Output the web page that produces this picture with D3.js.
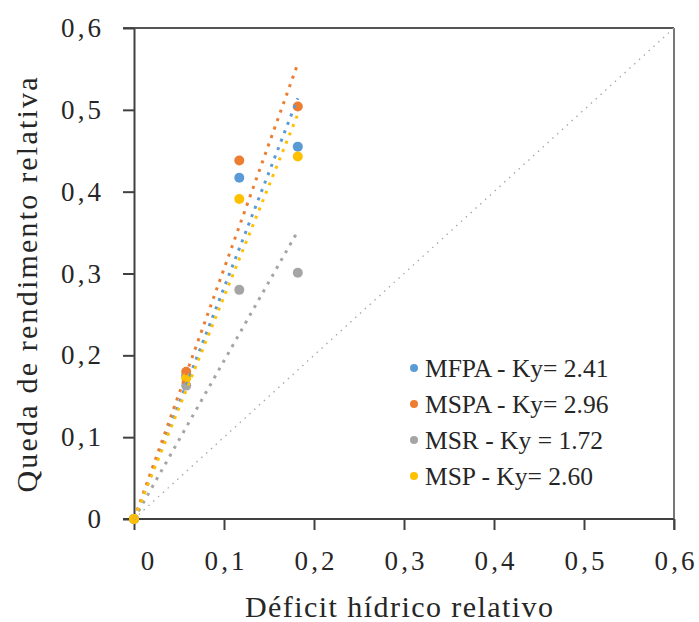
<!DOCTYPE html>
<html>
<head>
<meta charset="utf-8">
<script src="https://d3js.org/d3.v7.min.js"></script>
<style>
  body { margin: 0; background: #fff; }
  svg { display: block; font-family: "Liberation Serif", "Times New Roman", serif; }
</style>
</head>
<body>
<script>
// relative water deficit (x) for the four treatments
var deficit = [0, 0.058, 0.117, 0.182];

// relative yield drop for each series
var seriesNames = ["MFPA - Ky= 2.41", "MSPA - Ky= 2.96", "MSR - Ky = 1.72", "MSP - Ky= 2.60"];
var mfpa = [0, 0.175, 0.417, 0.455];
var mspa = [0, 0.180, 0.438, 0.504];
var msr  = [0, 0.163, 0.280, 0.301];
var msp  = [0, 0.172, 0.391, 0.443];
var colors = ["#5B9BD5", "#ED7D31", "#A5A5A5", "#FFC000"];

// tick values and labels (comma decimal)
var xTicks = [0, 0.1, 0.2, 0.3, 0.4, 0.5, 0.6];
var yTicks = [0, 0.1, 0.2, 0.3, 0.4, 0.5, 0.6];
var tickLabels = ["0", "0,1", "0,2", "0,3", "0,4", "0,5", "0,6"];

var width = 699, height = 622;
var plotL = 134, plotR = 674, plotT = 28, plotB = 519;

var svg = d3.select("body").append("svg")
  .attr("width", width)
  .attr("height", height);

svg.append("rect").attr("width", width).attr("height", height).attr("fill", "#fff");

var x = d3.scaleLinear().domain([0, 0.6]).range([plotL, plotR]);
var y = d3.scaleLinear().domain([0, 0.6]).range([plotB, plotT]);

// frame top & right
svg.append("line").attr("x1", plotL - 11).attr("x2", plotR).attr("y1", plotT).attr("y2", plotT)
  .attr("stroke", "#555").attr("stroke-width", 2);
svg.append("line").attr("x1", plotR).attr("x2", plotR).attr("y1", plotT).attr("y2", plotB + 11)
  .attr("stroke", "#777").attr("stroke-width", 2);

// axes
var xAxis = svg.append("g")
  .attr("transform", "translate(0," + plotB + ")")
  .call(d3.axisBottom(x).tickValues(xTicks)
    .tickFormat(function(d, i) { return tickLabels[i]; })
    .tickSize(11).tickSizeOuter(0).tickPadding(21));

var yAxis = svg.append("g")
  .attr("transform", "translate(" + plotL + ",0)")
  .call(d3.axisLeft(y).tickValues(yTicks)
    .tickFormat(function(d, i) { return tickLabels[i]; })
    .tickSize(11).tickSizeOuter(0).tickPadding(22));

[xAxis, yAxis].forEach(function(ax) {
  ax.select(".domain").attr("stroke", "#404040").attr("stroke-width", 2);
  ax.selectAll(".tick line").attr("stroke", "#404040").attr("stroke-width", 2);
  ax.selectAll(".tick text")
    .attr("font-size", 27)
    .attr("font-family", "Liberation Serif, serif")
    .attr("fill", "#262626")
    .each(function(d, i) {
      if (tickLabels[i].length > 1) {
        d3.select(this).attr("textLength", 40).attr("lengthAdjust", "spacing");
      }
    });
});
xAxis.select(".domain").attr("d", "M" + (plotL - 11) + ",0H" + plotR);
xAxis.selectAll(".tick text").filter(function(d) { return d === 0; }).attr("dx", 13);

// 1:1 reference line
svg.append("line")
  .attr("x1", x(0)).attr("y1", y(0)).attr("x2", x(0.6)).attr("y2", y(0.6))
  .attr("stroke", "#A6A6A6").attr("stroke-width", 1.3)
  .attr("stroke-dasharray", "1.5,5");

var allSeries = [mfpa, mspa, msr, msp];

// markers
allSeries.forEach(function(vals, s) {
  svg.append("g").selectAll("circle")
    .data(vals)
    .enter()
    .append("circle")
    .attr("cx", function(d, i) { return x(deficit[i]); })
    .attr("cy", function(d) { return y(d); })
    .attr("r", 5)
    .attr("fill", colors[s]);
});

// linear trendlines through the origin (least squares), drawn over the markers
allSeries.forEach(function(vals, s) {
  var sxy = d3.sum(vals, function(d, i) { return d * deficit[i]; });
  var sxx = d3.sum(deficit, function(d) { return d * d; });
  var k = sxy / sxx;
  var xmax = d3.max(deficit);
  svg.append("line")
    .attr("x1", x(0)).attr("y1", y(0))
    .attr("x2", x(xmax)).attr("y2", y(k * xmax))
    .attr("stroke", colors[s])
    .attr("stroke-width", 3)
    .attr("stroke-dasharray", "3,6");
});

// legend
var legend = svg.append("g").attr("transform", "translate(414,368)");
seriesNames.forEach(function(name, i) {
  var row = legend.append("g").attr("transform", "translate(0," + (i * 36) + ")");
  row.append("circle").attr("r", 4).attr("fill", colors[i]);
  row.append("text")
    .attr("x", 11).attr("y", 9)
    .attr("font-size", 25.5)
    .attr("fill", "#262626")
    .text(name);
});

// axis titles
svg.append("text")
  .attr("x", 399).attr("y", 617)
  .attr("text-anchor", "middle")
  .attr("font-size", 30)
  .attr("fill", "#262626")
  .attr("textLength", 308).attr("lengthAdjust", "spacing")
  .text("Déficit hídrico relativo");

svg.append("text")
  .attr("transform", "translate(37,285) rotate(-90)")
  .attr("text-anchor", "middle")
  .attr("font-size", 30)
  .attr("fill", "#262626")
  .attr("textLength", 415).attr("lengthAdjust", "spacing")
  .text("Queda de rendimento relativa");
</script>
</body>
</html>
